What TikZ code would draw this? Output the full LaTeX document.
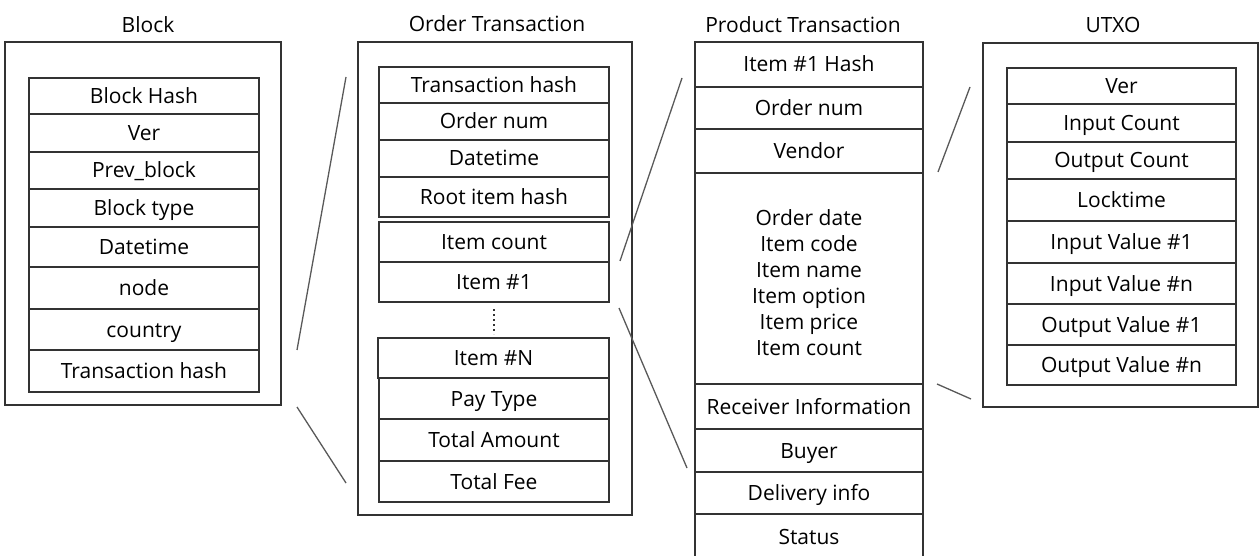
\documentclass[tikz,border=0pt]{standalone}
\usepackage{fontspec}
\setmainfont{Open Sans}
\begin{document}
\begin{tikzpicture}[x=1pt,y=-1pt,
  every node/.style={font=\fontsize{21}{26}\selectfont, text=black},
  cell/.style={draw=black!80, line width=1.3pt, inner sep=0pt, text height=15pt, text depth=0pt},
  outerbox/.style={draw=black!80, line width=1.3pt, inner sep=0pt},
  title/.style={inner sep=0pt, text height=15pt, text depth=0pt},
  multi/.style={align=center, inner sep=0pt},
  link/.style={draw=black!65, line width=1.3pt},
  vdots/.style={draw=black!80, line width=2pt, dash pattern=on 2pt off 3pt}]
\useasboundingbox (0,0) rectangle (1259,556);
\newcommand\mycell[6]{\node[cell, minimum width={#4-#2}, minimum height={#5-#3}] (#1) at ({(#2+#4)/2},{(#3+#5)/2}) {#6};}
\newcommand\myouter[5]{\node[outerbox, minimum width={#4-#2}, minimum height={#5-#3}] (#1) at ({(#2+#4)/2},{(#3+#5)/2}) {};}
% Block
\node[title] (tblock) at (148,25) {Block};
\myouter{block}{5}{42}{281}{405}
\mycell{b1}{29}{78}{259}{114}{Block Hash}
\mycell{b2}{29}{114}{259}{152}{Ver}
\mycell{b3}{29}{152}{259}{189}{Prev\_block}
\mycell{b4}{29}{189}{259}{227}{Block type}
\mycell{b5}{29}{227}{259}{267}{Datetime}
\mycell{b6}{29}{267}{259}{309}{node}
\mycell{b7}{29}{309}{259}{350}{country}
\mycell{b8}{29}{350}{259}{392}{Transaction hash}
% Order Transaction
\node[title] (torder) at (497,24) {Order Transaction};
\myouter{order}{358}{42}{632}{515}
\mycell{o1}{379}{67}{609}{103}{Transaction hash}
\mycell{o2}{379}{103}{609}{140}{Order num}
\mycell{o3}{379}{140}{609}{177}{Datetime}
\mycell{o4}{379}{177}{609}{217}{Root item hash}
\mycell{o5}{379}{222}{609}{262}{Item count}
\mycell{o6}{379}{262}{609}{302}{Item \#1}
\mycell{o7}{378}{338}{609}{378}{Item \#N}
\mycell{o8}{379}{378}{609}{419}{Pay Type}
\mycell{o9}{379}{419}{609}{461}{Total Amount}
\mycell{o10}{379}{461}{609}{502}{Total Fee}
\coordinate (dtop) at (494,309);
\coordinate (dbot) at (494,334);
\draw[vdots] (dtop) -- (dbot);
% Product Transaction
\node[title] (tprod) at (803,25) {Product Transaction};
\mycell{p1}{695}{42}{923}{87}{Item \#1  Hash}
\mycell{p2}{695}{87}{923}{129}{Order num}
\mycell{p3}{695}{129}{923}{173}{Vendor}
\node[draw=black!80, line width=1.3pt, minimum width=228, minimum height=211, inner sep=0pt] (p4) at (809,278.5) {};
\node[multi] (p4t) at (809,283) {Order date\\Item code\\Item name\\Item option\\Item price\\Item count};
\mycell{p5}{695}{384}{923}{429}{Receiver Information}
\mycell{p6}{695}{429}{923}{472}{Buyer}
\mycell{p7}{695}{472}{923}{514}{Delivery info}
\mycell{p8}{695}{514}{923}{565}{}
\node[title] (p8t) at (809,537) {Status};
% UTXO
\node[title] (tutxo) at (1113,25) {UTXO};
\myouter{utxo}{983}{43}{1258}{407}
\mycell{u1}{1007}{68}{1236}{104}{Ver}
\mycell{u2}{1007}{104}{1236}{142}{Input Count}
\mycell{u3}{1007}{142}{1236}{179}{Output Count}
\mycell{u4}{1007}{179}{1236}{221}{Locktime}
\mycell{u5}{1007}{221}{1236}{263}{Input Value \#1}
\mycell{u6}{1007}{263}{1236}{304}{Input Value \#n}
\mycell{u7}{1007}{304}{1236}{345}{Output Value \#1}
\mycell{u8}{1007}{345}{1236}{385}{Output Value \#n}
% connectors (zoom lines)
\coordinate (l1a) at (297,350); \coordinate (l1b) at (346,77);
\coordinate (l2a) at (297,407); \coordinate (l2b) at (346,483);
\coordinate (l3a) at (620,261); \coordinate (l3b) at (682,78);
\coordinate (l4a) at (619,308); \coordinate (l4b) at (687,468);
\coordinate (l5a) at (938,172); \coordinate (l5b) at (970,87);
\coordinate (l6a) at (937,384); \coordinate (l6b) at (971,399);
\draw[link] (l1a) -- (l1b);
\draw[link] (l2a) -- (l2b);
\draw[link] (l3a) -- (l3b);
\draw[link] (l4a) -- (l4b);
\draw[link] (l5a) -- (l5b);
\draw[link] (l6a) -- (l6b);
\end{tikzpicture}
\end{document}
